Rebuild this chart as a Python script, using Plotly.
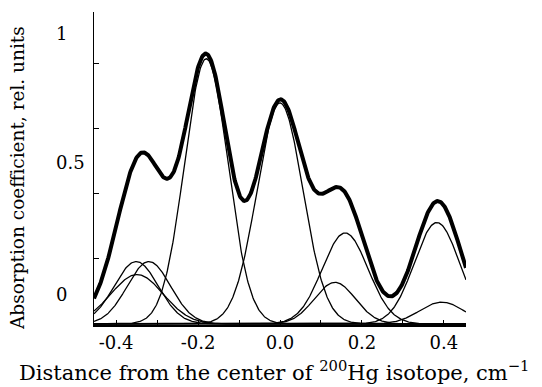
import numpy as np
import plotly.graph_objects as go

# Gaussian components (center, height, width) in cm^-1 / rel. units
comp_centers = [-0.351, -0.320, -0.349, -0.180, 0.000, 0.159, 0.134, 0.383, 0.395]
comp_heights = [0.24, 0.24, 0.19, 1.02, 0.85, 0.35, 0.16, 0.39, 0.084]
comp_widths = [0.054, 0.053, 0.064, 0.053, 0.056, 0.056, 0.050, 0.055, 0.054]

x_tick_vals = [-0.4, -0.2, 0.0, 0.2, 0.4]
x_tick_text = ["-0.4", "-0.2", "0.0", "0.2", "0.4"]
y_tick_vals = [0.25, 0.5, 0.75, 1.0]
y_label_text = ["0", "0.5", "1"]
y_label_pos = [0.115, 0.621, 1.119]

x_min, x_max = -0.454, 0.454
x = np.linspace(x_min, x_max, 600)

components = [h * np.exp(-(x - c) ** 2 / (2 * w ** 2))
              for c, h, w in zip(comp_centers, comp_heights, comp_widths)]
total = np.sum(components, axis=0)

FONT = "DejaVu Serif"
fig = go.Figure()
for comp in components:
    fig.add_trace(go.Scatter(x=x, y=comp, mode="lines",
                             line=dict(color="black", width=1.3), showlegend=False))
fig.add_trace(go.Scatter(x=x, y=total, mode="lines",
                         line=dict(color="black", width=4), showlegend=False))

fig.update_layout(
    width=542, height=387,
    margin=dict(l=94, r=76, t=12, b=62),
    paper_bgcolor="white", plot_bgcolor="white",
    font=dict(family=FONT, size=18, color="black"),
    showlegend=False,
)
fig.update_xaxes(
    range=[x_min, x_max], showgrid=False, zeroline=False,
    showline=True, linecolor="black", linewidth=2,
    ticks="inside", ticklen=5, tickwidth=1.2, tickcolor="black",
    tickvals=x_tick_vals, ticktext=x_tick_text,
    minor=dict(ticks="inside", ticklen=5, tickwidth=1.2, tickcolor="black",
               tick0=0, dtick=0.1, showgrid=False),
    tickfont=dict(family=FONT, size=18, color="black"),
)
fig.update_yaxes(
    range=[-0.004, 1.2], showgrid=False, zeroline=False,
    showline=True, linecolor="black", linewidth=1.3,
    ticks="inside", ticklen=5, tickwidth=1.2, tickcolor="black",
    tickvals=y_tick_vals, showticklabels=False,
)

for txt, pos in zip(y_label_text, y_label_pos):
    fig.add_annotation(text=txt, xref="paper", yref="y", x=-0.1075, y=pos,
                       xanchor="left", yanchor="middle", showarrow=False,
                       font=dict(family=FONT, size=18, color="black"))

fig.add_annotation(text="Absorption coefficient, rel. units", xref="paper", yref="paper",
                   x=-0.204, y=0.47, textangle=-90, xanchor="center", yanchor="middle",
                   showarrow=False, font=dict(family=FONT, size=18.5, color="black"))
fig.add_annotation(text="Distance from the center of <sup>200</sup>Hg isotope, cm<sup>\u22121</sup>",
                   xref="paper", yref="paper", x=0.484, y=-0.148,
                   xanchor="center", yanchor="middle", showarrow=False,
                   font=dict(family=FONT, size=21, color="black"))

fig.write_html("out.html")
